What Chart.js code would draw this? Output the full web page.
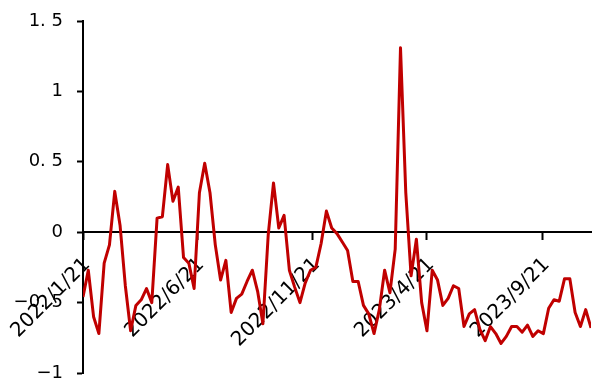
<!DOCTYPE html>
<html>
<head>
<meta charset="utf-8">
<script src="https://cdn.jsdelivr.net/npm/chart.js@4/dist/chart.umd.min.js"></script>
<style>
  html, body { margin: 0; padding: 0; background: #ffffff; }
  #wrap { width: 593px; height: 378px; }
</style>
</head>
<body>
<div id="wrap"><canvas id="c" width="593" height="378"></canvas></div>
<script>
// Weekly observations (Fridays)
const dates = [
  "2022/1/21","2022/1/28","2022/2/4","2022/2/11","2022/2/18","2022/2/25",
  "2022/3/4","2022/3/11","2022/3/18","2022/3/25","2022/4/1","2022/4/8",
  "2022/4/15","2022/4/22","2022/4/29","2022/5/6","2022/5/13","2022/5/20",
  "2022/5/27","2022/6/3","2022/6/10","2022/6/17","2022/6/24","2022/7/1",
  "2022/7/8","2022/7/15","2022/7/22","2022/7/29","2022/8/5","2022/8/12",
  "2022/8/19","2022/8/26","2022/9/2","2022/9/9","2022/9/16","2022/9/23",
  "2022/9/30","2022/10/7","2022/10/14","2022/10/21","2022/10/28","2022/11/4",
  "2022/11/11","2022/11/18","2022/11/25","2022/12/2","2022/12/9","2022/12/16",
  "2022/12/23","2022/12/30","2023/1/6","2023/1/13","2023/1/20","2023/1/27",
  "2023/2/3","2023/2/10","2023/2/17","2023/2/24","2023/3/3","2023/3/10",
  "2023/3/17","2023/3/24","2023/3/31","2023/4/7","2023/4/14","2023/4/21",
  "2023/4/28","2023/5/5","2023/5/12","2023/5/19","2023/5/26","2023/6/2",
  "2023/6/9","2023/6/16","2023/6/23","2023/6/30","2023/7/7","2023/7/14",
  "2023/7/21","2023/7/28","2023/8/4","2023/8/11","2023/8/18","2023/8/25",
  "2023/9/1","2023/9/8","2023/9/15","2023/9/22","2023/9/29","2023/10/6",
  "2023/10/13","2023/10/20","2023/10/27","2023/11/3","2023/11/10","2023/11/17",
  "2023/11/24"
];

const values = [
  -0.46, -0.27, -0.60, -0.72, -0.22, -0.09,
   0.29,  0.05, -0.38, -0.70, -0.52, -0.48,
  -0.40, -0.50,  0.10,  0.11,  0.48,  0.22,
   0.32, -0.18, -0.22, -0.40,  0.28,  0.49,
   0.28, -0.09, -0.34, -0.20, -0.57, -0.47,
  -0.44, -0.35, -0.27, -0.42, -0.65, -0.02,
   0.35,  0.03,  0.12, -0.27, -0.39, -0.50,
  -0.36, -0.27, -0.25, -0.08,  0.15,  0.03,
  -0.01, -0.07, -0.13, -0.35, -0.35, -0.52,
  -0.58, -0.72, -0.55, -0.27, -0.43, -0.12,
   1.31,  0.28, -0.31, -0.05, -0.50, -0.70,
  -0.27, -0.34, -0.52, -0.47, -0.38, -0.40,
  -0.67, -0.58, -0.55, -0.69, -0.77, -0.67,
  -0.72, -0.79, -0.74, -0.67, -0.67, -0.71,
  -0.66, -0.74, -0.70, -0.72, -0.54, -0.48,
  -0.49, -0.33, -0.33, -0.57, -0.67, -0.55,
  -0.68
];

const xTickLabels = ["2022/1/21", "2022/6/21", "2022/11/21", "2023/4/21", "2023/9/21"];
const yTickValues = [-1, -0.5, 0, 0.5, 1, 1.5];
const yTickLabels = ["\u22121", "\u22120. 5", "0", "0. 5", "1", "1. 5"];

// Dates become day offsets so the time axis stays evenly scaled
function dayNumber(s) {
  const [y, m, d] = s.split('/').map(Number);
  return Date.UTC(y, m - 1, d) / 86400000;
}
const day0 = dayNumber(dates[0]);
const points = dates.map((d, i) => ({ x: dayNumber(d) - day0, y: values[i] }));
const xTickValues = xTickLabels.map(s => dayNumber(s) - day0);

const FONT = "'DejaVu Sans', Verdana, sans-serif";
Chart.defaults.font.family = FONT;
Chart.defaults.color = '#000';

new Chart(document.getElementById('c'), {
  type: 'line',
  data: {
    datasets: [{
      data: points,
      borderColor: '#C00000',
      borderWidth: 3,
      borderJoinStyle: 'round',
      pointRadius: 0,
      tension: 0,
      fill: false
    }]
  },
  options: {
    responsive: false,
    animation: false,
    devicePixelRatio: 1,
    layout: { padding: { top: 21, bottom: 5, left: 0, right: 2 } },
    plugins: { legend: { display: false }, tooltip: { enabled: false } },
    scales: {
      x: {
        type: 'linear',
        position: { y: 0 },
        z: 1,
        min: 0,
        max: points[points.length - 1].x,
        afterBuildTicks: s => { s.ticks = xTickValues.map(v => ({ value: v })); },
        afterFit: s => { s.height = 0; s.paddingLeft = 0; s.paddingRight = 0; },
        ticks: {
          autoSkip: false,
          maxRotation: 45,
          minRotation: 45,
          padding: 14,
          labelOffset: 4,
          color: '#000',
          font: { family: FONT, size: 20 },
          callback: (v, i) => xTickLabels[i]
        },
        grid: {
          display: true,
          drawOnChartArea: false,
          drawTicks: true,
          tickLength: 7,
          tickWidth: 2,
          color: '#000'
        },
        border: { display: true, color: '#000', width: 2 }
      },
      y: {
        min: -1,
        max: 1.5,
        afterBuildTicks: s => { s.ticks = yTickValues.map(v => ({ value: v })); },
        afterFit: s => { s.width = 83; s.paddingTop = 0; s.paddingBottom = 0; },
        ticks: {
          padding: 14,
          color: '#000',
          font: { family: FONT, size: 18 },
          callback: (v, i) => yTickLabels[i]
        },
        grid: {
          display: true,
          drawOnChartArea: false,
          drawTicks: true,
          tickLength: 6,
          tickWidth: 2,
          color: '#000'
        },
        border: { display: true, color: '#000', width: 2 }
      }
    }
  }
});
</script>
</body>
</html>
